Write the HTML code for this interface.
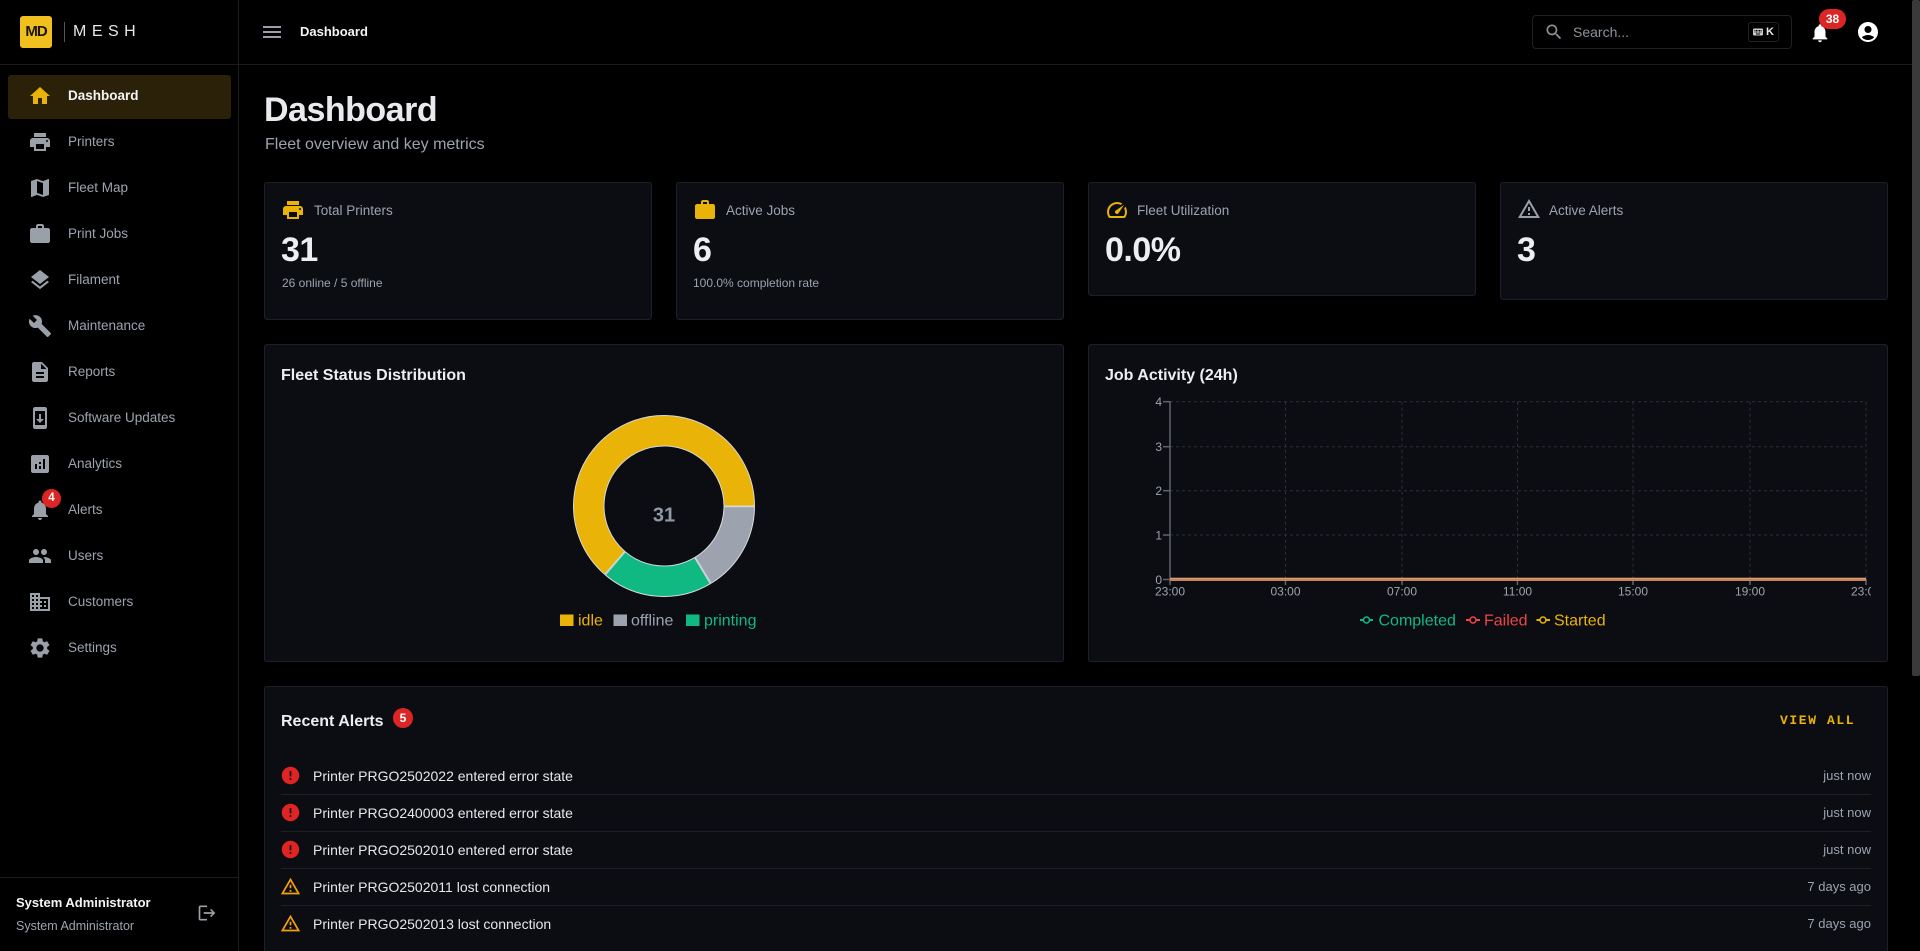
<!DOCTYPE html>
<html>
<head>
<meta charset="utf-8">
<style>
*{box-sizing:border-box;margin:0;padding:0}
html,body{width:1920px;height:951px;overflow:hidden;background:#000;font-family:"Liberation Sans",Arial,sans-serif;}
#root{position:relative;width:1920px;height:951px;overflow:hidden;background:#000}
.a{position:absolute;white-space:nowrap}
.card{position:absolute;background:#0b0d12;border:1px solid #1d2026;border-radius:3px}
.nav{position:absolute;left:68px;font-size:13.5px;line-height:20px;color:#9ca3af}
.ico{position:absolute;left:28px;width:24px;height:24px}
.ct{position:absolute;font-size:13.5px;line-height:16px;color:#9ca3af}
.num{position:absolute;font-size:34px;line-height:40px;font-weight:bold;color:#eceef1;letter-spacing:-0.5px}
.sub{position:absolute;font-size:12px;line-height:16px;color:#9ca3af}
.at{position:absolute;left:313px;font-size:14px;line-height:20px;color:#e5e7eb}
.tm{position:absolute;right:49px;font-size:13px;line-height:20px;color:#9ca3af;text-align:right}
.dv{position:absolute;left:281px;width:1590px;height:1px;background:#1d2026}
</style>
</head>
<body>
<div id="root">

<!-- Sidebar -->
<div class="a" style="left:0;top:0;width:239px;height:951px;background:#000;border-right:1px solid #1c1c1c"></div>
<div class="a" style="left:0;top:64px;width:1912px;height:1px;background:#1c1c1c"></div>

<!-- logo -->
<div class="a" style="left:20px;top:16px;width:32px;height:32px;background:#f2c01e;border-radius:3px;color:#1a1400;font-size:15px;line-height:32px;text-align:center;letter-spacing:-1px;font-weight:bold">MD</div>
<div class="a" style="left:64px;top:22px;width:1px;height:20px;background:#555"></div>
<div class="a" style="left:73px;top:22px;font-size:16px;line-height:20px;color:#e5e7eb;letter-spacing:5.5px">MESH</div>

<!-- active nav -->
<div class="a" style="left:8px;top:75px;width:223px;height:44px;background:#2b2108;border-radius:3px"></div>

<svg class="ico" style="top:84px" viewBox="0 0 24 24"><path fill="#eab308" d="M10 20v-6h4v6h5v-8h3L12 3 2 12h3v8z"/></svg>
<div class="nav" style="top:86px;color:#f3f4f6;font-weight:bold">Dashboard</div>

<svg class="ico" style="top:130px" viewBox="0 0 24 24"><path fill="#9aa0a8" d="M19 8H5c-1.66 0-3 1.34-3 3v6h4v4h12v-4h4v-6c0-1.66-1.34-3-3-3m-3 11H8v-5h8zm3-7c-.55 0-1-.45-1-1s.45-1 1-1 1 .45 1 1-.45 1-1 1m-1-9H6v4h12z"/></svg>
<div class="nav" style="top:132px">Printers</div>

<svg class="ico" style="top:176px" viewBox="0 0 24 24"><path fill="#9aa0a8" d="m20.5 3-.16.03L15 5.1 9 3 3.36 4.9c-.21.07-.36.25-.36.48V20.5c0 .28.22.5.5.5l.16-.03L9 18.9l6 2.1 5.64-1.9c.21-.07.36-.25.36-.48V3.5c0-.28-.22-.5-.5-.5M15 19l-6-2.11V5l6 2.11z"/></svg>
<div class="nav" style="top:178px">Fleet Map</div>

<svg class="ico" style="top:222px" viewBox="0 0 24 24"><path fill="#9aa0a8" d="M20 6h-4V4c0-1.11-.89-2-2-2h-4c-1.11 0-2 .89-2 2v2H4c-1.11 0-1.99.89-1.99 2L2 19c0 1.11.89 2 2 2h16c1.11 0 2-.89 2-2V8c0-1.11-.89-2-2-2m-6 0h-4V4h4z"/></svg>
<div class="nav" style="top:224px">Print Jobs</div>

<svg class="ico" style="top:268px" viewBox="0 0 24 24"><path fill="#9aa0a8" d="m11.99 18.54-7.37-5.73L3 14.070l9 7 9-7-1.63-1.27zM12 16l7.36-5.73L21 9l-9-7-9 7 1.63 1.27z"/></svg>
<div class="nav" style="top:270px">Filament</div>

<svg class="ico" style="top:314px" viewBox="0 0 24 24"><path fill="#9aa0a8" d="M22.7 19l-9.1-9.1c.9-2.3.4-5-1.5-6.9-2-2-5-2.4-7.4-1.3L9 6 6 9 1.6 4.7C.4 7.1.9 10.1 2.9 12.1c1.9 1.9 4.6 2.4 6.9 1.5l9.1 9.1c.4.4 1 .4 1.4 0l2.3-2.3c.5-.4.5-1.1.1-1.4"/></svg>
<div class="nav" style="top:316px">Maintenance</div>

<svg class="ico" style="top:360px" viewBox="0 0 24 24"><path fill="#9aa0a8" d="M14 2H6c-1.1 0-1.99.9-1.99 2L4 20c0 1.1.89 2 1.99 2H18c1.1 0 2-.9 2-2V8zm2 16H8v-2h8zm0-4H8v-2h8zm-3-5V3.5L18.5 9z"/></svg>
<div class="nav" style="top:362px">Reports</div>

<svg class="ico" style="top:406px" viewBox="0 0 24 24"><path fill="#9aa0a8" d="M17 1.01 7 1c-1.1 0-1.99.9-1.99 2v18c0 1.1.89 2 1.990 2h10c1.1 0 2-.9 2-2V3c0-1.1-.9-1.99-2-1.99M17 19H7V5h10zm-1-6h-3V8h-2v5H8l4 4z"/></svg>
<div class="nav" style="top:408px">Software Updates</div>

<svg class="ico" style="top:452px" viewBox="0 0 24 24"><path fill="#9aa0a8" d="M19 3H5c-1.1 0-2 .9-2 2v14c0 1.1.9 2 2 2h14c1.1 0 2-.9 2-2V5c0-1.1-.9-2-2-2M9 17H7v-5h2zm4 0h-2v-3h2zm0-5h-2v-2h2zm4 5h-2V7h2z"/></svg>
<div class="nav" style="top:454px">Analytics</div>

<svg class="ico" style="top:498px" viewBox="0 0 24 24"><path fill="#9aa0a8" d="M12 22c1.1 0 2-.9 2-2h-4c0 1.1.89 2 2 2m6-6v-5c0-3.07-1.64-5.64-4.5-6.32V4c0-.83-.67-1.5-1.5-1.5s-1.5.67-1.5 1.5v.68C7.63 5.36 6 7.92 6 11v5l-2 2v1h16v-1z"/></svg>
<div class="a" style="left:42px;top:489px;width:19px;height:19px;border-radius:50%;background:#dc2626;color:#fff;font-size:11.5px;font-weight:bold;line-height:19px;text-align:center">4</div>
<div class="nav" style="top:500px">Alerts</div>

<svg class="ico" style="top:544px" viewBox="0 0 24 24"><path fill="#9aa0a8" d="M16 11c1.66 0 2.99-1.34 2.99-3S17.66 5 16 5c-1.66 0-3 1.34-3 3s1.34 3 3 3m-8 0c1.66 0 2.99-1.34 2.99-3S9.66 5 8 5C6.34 5 5 6.34 5 8s1.34 3 3 3m0 2c-2.33 0-7 1.17-7 3.5V19h14v-2.5c0-2.33-4.67-3.5-7-3.5m8 0c-.29 0-.62.02-.97.05 1.16.84 1.97 1.97 1.97 3.45V19h6v-2.5c0-2.33-4.67-3.5-7-3.5"/></svg>
<div class="nav" style="top:546px">Users</div>

<svg class="ico" style="top:590px" viewBox="0 0 24 24"><path fill="#9aa0a8" d="M12 7V3H2v18h20V7zM6 19H4v-2h2zm0-4H4v-2h2zm0-4H4V9h2zm0-4H4V5h2zm4 12H8v-2h2zm0-4H8v-2h2zm0-4H8V9h2zm0-4H8V5h2zm10 12h-8v-2h2v-2h-2v-2h2v-2h-2V9h8zm-2-8h-2v2h2zm0 4h-2v2h2z"/></svg>
<div class="nav" style="top:592px">Customers</div>

<svg class="ico" style="top:636px" viewBox="0 0 24 24"><path fill="#9aa0a8" d="M19.14 12.94c.04-.3.06-.61.06-.94 0-.32-.02-.64-.07-.94l2.03-1.58c.18-.14.23-.41.12-.61l-1.92-3.32c-.12-.22-.37-.29-.59-.22l-2.39.96c-.5-.38-1.03-.7-1.62-.94l-.36-2.54c-.04-.24-.24-.41-.48-.41h-3.84c-.24 0-.43.17-.47.41l-.36 2.54c-.59.24-1.13.57-1.62.94l-2.39-.96c-.22-.08-.47 0-.59.22L2.74 8.87c-.12.21-.08.47.12.61l2.03 1.58c-.05.3-.09.63-.09.94s.02.64.07.94l-2.03 1.58c-.18.14-.23.41-.12.61l1.92 3.32c.12.22.37.29.59.22l2.39-.96c.5.38 1.03.7 1.62.94l.36 2.54c.05.24.24.41.48.41h3.84c.24 0 .44-.17.47-.41l.36-2.54c.59-.24 1.13-.56 1.62-.94l2.39.96c.22.08.47 0 .59-.22l1.92-3.32c.12-.22.07-.47-.12-.61zM12 15.6c-1.98 0-3.6-1.62-3.6-3.6s1.62-3.6 3.6-3.6 3.6 1.62 3.6 3.6-1.62 3.6-3.6 3.6"/></svg>
<div class="nav" style="top:638px">Settings</div>

<!-- sidebar bottom -->
<div class="a" style="left:0;top:877px;width:239px;height:1px;background:#1c1c1c"></div>
<div class="a" style="left:16px;top:894px;font-size:13px;line-height:18px;font-weight:bold;color:#f3f4f6">System Administrator</div>
<div class="a" style="left:16px;top:917px;font-size:12.5px;line-height:18px;color:#9ca3af">System Administrator</div>
<svg class="a" style="left:197px;top:903px;width:20px;height:20px" viewBox="0 0 24 24"><path fill="#9aa0a8" d="m17 7-1.41 1.41L18.17 11H8v2h10.17l-2.58 2.58L17 17l5-5zM4 5h8V3H4c-1.1 0-2 .9-2 2v14c0 1.1.9 2 2 2h8v-2H4z"/></svg>

<!-- Header -->
<svg class="a" style="left:260px;top:20px;width:24px;height:24px" viewBox="0 0 24 24"><path fill="#9aa0a8" d="M3 18h18v-2H3zm0-5h18v-2H3zm0-7v2h18V6z"/></svg>
<div class="a" style="left:300px;top:23px;font-size:13px;line-height:18px;font-weight:bold;color:#f3f4f6">Dashboard</div>

<div class="a" style="left:1532px;top:15px;width:260px;height:34px;border:1px solid #1f2125;border-radius:4px;background:#000"></div>
<svg class="a" style="left:1544px;top:22px;width:20px;height:20px" viewBox="0 0 24 24"><path fill="#8b939c" d="M15.5 14h-.79l-.28-.27C15.41 12.59 16 11.11 16 9.5 16 5.91 13.09 3 9.5 3S3 5.91 3 9.5 5.91 16 9.5 16c1.61 0 3.09-.59 4.23-1.57l.27.28v.79l5 4.99L20.49 19zm-6 0C7.01 14 5 11.99 5 9.5S7.01 5 9.5 5 14 7.01 14 9.5 11.99 14 9.5 14"/></svg>
<div class="a" style="left:1573px;top:23px;font-size:14px;line-height:18px;color:#8b939c">Search...</div>
<div class="a" style="left:1748px;top:22px;width:31px;height:20px;border:1px solid #1f2125;border-radius:3px"></div>
<svg class="a" style="left:1752px;top:26px;width:12px;height:12px" viewBox="0 0 24 24"><path fill="#c9ccd1" d="M20 5H4c-1.1 0-1.99.9-1.99 2L2 17c0 1.1.9 2 2 2h16c1.1 0 2-.9 2-2V7c0-1.1-.9-2-2-2m-9 3h2v2h-2zm0 3h2v2h-2zM8 8h2v2H8zm0 3h2v2H8zm-1 2H5v-2h2zm0-3H5V8h2zm9 7H8v-2h8zm0-4h-2v-2h2zm0-3h-2V8h2zm3 3h-2v-2h2zm0-3h-2V8h2z"/></svg>
<div class="a" style="left:1766px;top:25px;font-size:11px;line-height:14px;font-weight:bold;color:#e5e7eb">K</div>

<svg class="a" style="left:1809px;top:22px;width:22px;height:22px" viewBox="0 0 24 24"><path fill="#fff" d="M12 22c1.1 0 2-.9 2-2h-4c0 1.1.89 2 2 2m6-6v-5c0-3.07-1.64-5.64-4.5-6.32V4c0-.83-.67-1.5-1.5-1.5s-1.5.67-1.5 1.5v.68C7.63 5.36 6 7.92 6 11v5l-2 2v1h16v-1z"/></svg>
<div class="a" style="left:1819px;top:9px;width:27px;height:20px;border-radius:10px;background:#dc2626;color:#fff;font-size:12px;font-weight:bold;line-height:20px;text-align:center">38</div>
<svg class="a" style="left:1856px;top:20px;width:24px;height:24px" viewBox="0 0 24 24"><path fill="#fff" d="M12 2C6.48 2 2 6.48 2 12s4.48 10 10 10 10-4.48 10-10S17.52 2 12 2m0 4c1.93 0 3.5 1.57 3.5 3.5S13.93 13 12 13s-3.5-1.57-3.5-3.5S10.07 6 12 6m0 14c-2.03 0-4.43-.82-6.14-2.88C7.55 15.8 9.68 15 12 15s4.45.8 6.14 2.12C16.43 19.18 14.03 20 12 20"/></svg>

<!-- scrollbar -->
<div class="a" style="left:1912px;top:0;width:8px;height:676px;background:#3a3a3a;border-radius:2px"></div>

<!-- Page heading -->
<div class="a" style="left:264px;top:90px;font-size:34px;line-height:40px;font-weight:bold;color:#e8eaed;letter-spacing:-0.5px">Dashboard</div>
<div class="a" style="left:265px;top:135px;font-size:16px;line-height:20px;color:#9ca3af">Fleet overview and key metrics</div>

<!-- Stat cards -->
<div class="card" style="left:264px;top:182px;width:388px;height:138px"></div>
<svg class="a" style="left:281px;top:198px;width:24px;height:24px" viewBox="0 0 24 24"><path fill="#eab308" d="M19 8H5c-1.66 0-3 1.34-3 3v6h4v4h12v-4h4v-6c0-1.66-1.34-3-3-3m-3 11H8v-5h8zm3-7c-.55 0-1-.45-1-1s.45-1 1-1 1 .45 1 1-.45 1-1 1m-1-9H6v4h12z"/></svg>
<div class="ct" style="left:314px;top:203px">Total Printers</div>
<div class="num" style="left:281px;top:230px">31</div>
<div class="sub" style="left:282px;top:275px">26 online / 5 offline</div>

<div class="card" style="left:676px;top:182px;width:388px;height:138px"></div>
<svg class="a" style="left:693px;top:198px;width:24px;height:24px" viewBox="0 0 24 24"><path fill="#eab308" d="M20 6h-4V4c0-1.11-.89-2-2-2h-4c-1.11 0-2 .89-2 2v2H4c-1.11 0-1.99.89-1.99 2L2 19c0 1.11.89 2 2 2h16c1.11 0 2-.89 2-2V8c0-1.11-.89-2-2-2m-6 0h-4V4h4z"/></svg>
<div class="ct" style="left:726px;top:203px">Active Jobs</div>
<div class="num" style="left:693px;top:230px">6</div>
<div class="sub" style="left:693px;top:275px">100.0% completion rate</div>

<div class="card" style="left:1088px;top:182px;width:388px;height:114px"></div>
<svg class="a" style="left:1105px;top:198px;width:24px;height:24px" viewBox="0 0 24 24"><path fill="#eab308" d="m20.38 8.57-1.23 1.85a8 8 0 0 1-.22 7.58H5.07A8 8 0 0 1 15.58 6.85l1.85-1.23A10 10 0 0 0 3.35 19a2 2 0 0 0 1.72 1h13.85a2 2 0 0 0 1.74-1 10 10 0 0 0-.27-10.44zm-9.79 6.84a2 2 0 0 0 2.83 0l5.66-8.49-8.49 5.66a2 2 0 0 0 0 2.83"/></svg>
<div class="ct" style="left:1137px;top:203px">Fleet Utilization</div>
<div class="num" style="left:1105px;top:230px">0.0%</div>

<div class="card" style="left:1500px;top:182px;width:388px;height:118px"></div>
<svg class="a" style="left:1517px;top:197px;width:24px;height:24px" viewBox="0 0 24 24"><path fill="#9aa0a8" d="M12 5.99 19.53 19H4.47zM12 2 1 21h22zm1 14h-2v2h2zm0-6h-2v4h2z"/></svg>
<div class="ct" style="left:1549px;top:203px">Active Alerts</div>
<div class="num" style="left:1517px;top:230px">3</div>

<!-- Chart cards -->
<div class="card" style="left:264px;top:344px;width:800px;height:318px"></div>
<div class="a" style="left:281px;top:366px;font-size:16px;line-height:20px;font-weight:bold;color:#eceef1">Fleet Status Distribution</div>

<div class="card" style="left:1088px;top:344px;width:800px;height:318px"></div>
<div class="a" style="left:1105px;top:366px;font-size:16px;line-height:20px;font-weight:bold;color:#eceef1">Job Activity (24h)</div>

<!-- Recent alerts card -->
<div class="card" style="left:264px;top:686px;width:1624px;height:280px"></div>
<div class="a" style="left:281px;top:712px;font-size:16px;line-height:20px;font-weight:bold;color:#eceef1">Recent Alerts</div>
<div class="a" style="left:393px;top:708px;width:20px;height:20px;border-radius:50%;background:#dc2626;color:#fff;font-size:12px;font-weight:bold;line-height:20px;text-align:center">5</div>
<div class="a" style="left:1780px;top:712px;font-family:'Liberation Mono',monospace;font-size:13px;line-height:18px;font-weight:bold;color:#eab308;letter-spacing:1.6px">VIEW ALL</div>

<svg class="a" style="left:280px;top:765px;width:21px;height:21px" viewBox="0 0 24 24"><path fill="#e02424" d="M12 2C6.48 2 2 6.48 2 12s4.48 10 10 10 10-4.48 10-10S17.52 2 12 2m1 15h-2v-2h2zm0-4h-2V7h2z"/></svg>
<div class="at" style="top:766px">Printer PRGO2502022 entered error state</div>
<div class="tm" style="top:766px">just now</div>
<div class="dv" style="top:794px"></div>

<svg class="a" style="left:280px;top:802px;width:21px;height:21px" viewBox="0 0 24 24"><path fill="#e02424" d="M12 2C6.48 2 2 6.48 2 12s4.48 10 10 10 10-4.48 10-10S17.52 2 12 2m1 15h-2v-2h2zm0-4h-2V7h2z"/></svg>
<div class="at" style="top:803px">Printer PRGO2400003 entered error state</div>
<div class="tm" style="top:803px">just now</div>
<div class="dv" style="top:831px"></div>

<svg class="a" style="left:280px;top:839px;width:21px;height:21px" viewBox="0 0 24 24"><path fill="#e02424" d="M12 2C6.48 2 2 6.48 2 12s4.48 10 10 10 10-4.48 10-10S17.52 2 12 2m1 15h-2v-2h2zm0-4h-2V7h2z"/></svg>
<div class="at" style="top:840px">Printer PRGO2502010 entered error state</div>
<div class="tm" style="top:840px">just now</div>
<div class="dv" style="top:868px"></div>

<svg class="a" style="left:280px;top:876px;width:21px;height:21px" viewBox="0 0 24 24"><path fill="#f59e0b" d="M12 5.99 19.53 19H4.47zM12 2 1 21h22zm1 14h-2v2h2zm0-6h-2v4h2z"/></svg>
<div class="at" style="top:877px">Printer PRGO2502011 lost connection</div>
<div class="tm" style="top:877px">7 days ago</div>
<div class="dv" style="top:905px"></div>

<svg class="a" style="left:280px;top:913px;width:21px;height:21px" viewBox="0 0 24 24"><path fill="#f59e0b" d="M12 5.99 19.53 19H4.47zM12 2 1 21h22zm1 14h-2v2h2zm0-6h-2v4h2z"/></svg>
<div class="at" style="top:914px">Printer PRGO2502013 lost connection</div>
<div class="tm" style="top:914px">7 days ago</div>

<!-- Charts SVG overlay -->
<svg class="a" style="left:0;top:0" width="1920" height="951" viewBox="0 0 1920 951">
  <defs>
    <clipPath id="cl"><rect x="1088" y="344" width="783" height="318"/></clipPath>
  </defs>
  <!-- Donut -->
  <g stroke="#d6d9de" stroke-width="1" stroke-linejoin="round">
    <path fill="#eab308" d="M 604.62 574.30 A 90.5 90.5 0 1 1 754.5 506 L 724 506 A 60 60 0 1 0 624.63 551.28 Z"/>
    <path fill="#9ca3af" d="M 754.5 506.8 A 90.5 90.5 0 0 1 711.15 583.25 L 695.26 557.22 A 60 60 0 0 0 724 506.8 Z"/>
    <path fill="#10b981" d="M 710.3 583.7 A 90.5 90.5 0 0 1 605.4 575 L 625.2 551.8 A 60 60 0 0 0 694.6 557.6 Z"/>
  </g>
  <text x="664" y="521.7" text-anchor="middle" font-family="Liberation Sans, Arial, sans-serif" font-size="20" font-weight="bold" fill="#8f98a3">31</text>
  <!-- donut legend -->
  <g font-family="Liberation Sans, Arial, sans-serif" font-size="16">
    <rect x="560" y="614.5" width="13.5" height="11.5" fill="#eab308"/>
    <text x="578" y="625.7" fill="#eab308">idle</text>
    <rect x="613.5" y="614.5" width="13.5" height="11.5" fill="#9ca3af"/>
    <text x="631" y="625.7" fill="#9ca3af">offline</text>
    <rect x="686" y="614.5" width="13.5" height="11.5" fill="#10b981"/>
    <text x="704" y="625.7" fill="#10b981">printing</text>
  </g>

  <!-- Line chart grid -->
  <g stroke="#2c3038" stroke-width="1" stroke-dasharray="3,3">
    <line x1="1170" y1="401.7" x2="1866" y2="401.7"/>
    <line x1="1170" y1="446.7" x2="1866" y2="446.7"/>
    <line x1="1170" y1="490.7" x2="1866" y2="490.7"/>
    <line x1="1170" y1="535" x2="1866" y2="535"/>
    <line x1="1285.5" y1="401.7" x2="1285.5" y2="579"/>
    <line x1="1402" y1="401.7" x2="1402" y2="579"/>
    <line x1="1517.5" y1="401.7" x2="1517.5" y2="579"/>
    <line x1="1633" y1="401.7" x2="1633" y2="579"/>
    <line x1="1750" y1="401.7" x2="1750" y2="579"/>
    <line x1="1866" y1="401.7" x2="1866" y2="579"/>
  </g>
  <!-- axes ticks -->
  <g stroke="#5f646c" stroke-width="1.5">
    <line x1="1170" y1="401" x2="1170" y2="585"/>
    <line x1="1163" y1="401.7" x2="1170" y2="401.7"/>
    <line x1="1163" y1="446.7" x2="1170" y2="446.7"/>
    <line x1="1163" y1="490.7" x2="1170" y2="490.7"/>
    <line x1="1163" y1="535" x2="1170" y2="535"/>
    <line x1="1163" y1="579.5" x2="1170" y2="579.5"/>
    <line x1="1285.5" y1="579" x2="1285.5" y2="585"/>
    <line x1="1402" y1="579" x2="1402" y2="585"/>
    <line x1="1517.5" y1="579" x2="1517.5" y2="585"/>
    <line x1="1633" y1="579" x2="1633" y2="585"/>
    <line x1="1750" y1="579" x2="1750" y2="585"/>
    <line x1="1866" y1="579" x2="1866" y2="585"/>
  </g>
  <!-- zero line -->
  <line x1="1170" y1="579.4" x2="1866" y2="579.4" stroke="#c8845a" stroke-width="3.2"/>
  <line x1="1170" y1="578.3" x2="1866" y2="578.3" stroke="#e3a576" stroke-width="0.8"/>
  <!-- tick labels -->
  <g font-family="Liberation Sans, Arial, sans-serif" font-size="12" fill="#9ca3af" text-anchor="end">
    <text x="1162" y="406">4</text>
    <text x="1162" y="451">3</text>
    <text x="1162" y="495">2</text>
    <text x="1162" y="539.3">1</text>
    <text x="1162" y="584">0</text>
  </g>
  <g font-family="Liberation Sans, Arial, sans-serif" font-size="12" fill="#9ca3af" text-anchor="middle" clip-path="url(#cl)">
    <text x="1170" y="595.5">23:00</text>
    <text x="1285.5" y="595.5">03:00</text>
    <text x="1402" y="595.5">07:00</text>
    <text x="1517.5" y="595.5">11:00</text>
    <text x="1633" y="595.5">15:00</text>
    <text x="1750" y="595.5">19:00</text>
    <text x="1866" y="595.5">23:00</text>
  </g>
  <!-- line legend -->
  <g font-family="Liberation Sans, Arial, sans-serif" font-size="16">
    <line x1="1360" y1="620" x2="1373" y2="620" stroke="#10b981" stroke-width="2"/>
    <circle cx="1366.5" cy="620" r="3" fill="#0b0d12" stroke="#10b981" stroke-width="1.5"/>
    <text x="1378.5" y="625.7" fill="#10b981">Completed</text>
    <line x1="1466" y1="620" x2="1480" y2="620" stroke="#ef4444" stroke-width="2"/>
    <circle cx="1473" cy="620" r="3" fill="#0b0d12" stroke="#ef4444" stroke-width="1.5"/>
    <text x="1484" y="625.7" fill="#ef4444">Failed</text>
    <line x1="1536.5" y1="620" x2="1550" y2="620" stroke="#eab308" stroke-width="2"/>
    <circle cx="1543" cy="620" r="3" fill="#0b0d12" stroke="#eab308" stroke-width="1.5"/>
    <text x="1554" y="625.7" fill="#eab308">Started</text>
  </g>
</svg>

</div>
</body>
</html>
